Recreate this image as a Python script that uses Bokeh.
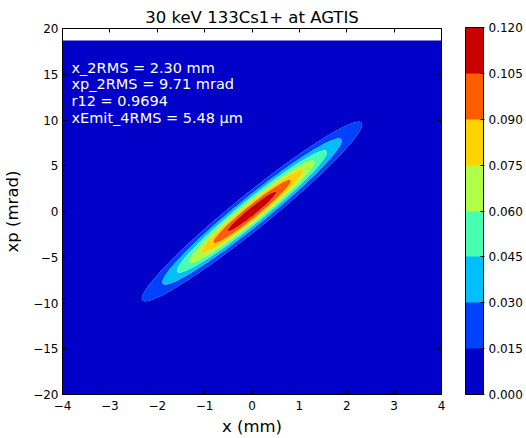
import numpy as np
from bokeh.plotting import figure
from bokeh.models import (LinearAxis, ColorBar, LinearColorMapper, FixedTicker,
                          PrintfTickFormatter, Label, Range1d)
from bokeh.embed import file_html
from bokeh.resources import INLINE

# ---------------- data ----------------
TITLE = "30 keV 133Cs1+ at AGTIS"
X_LABEL = "x (mm)"
Y_LABEL = "xp (mrad)"

# beam statistics printed on the chart
x_2rms = 2.30       # mm
xp_2rms = 9.71      # mrad
r12 = 0.9694
emit_4rms = 5.48    # um

x_ticks = [-4, -3, -2, -1, 0, 1, 2, 3, 4]
y_ticks = [-20, -15, -10, -5, 0, 5, 10, 15, 20]
levels = [0.000, 0.015, 0.030, 0.045, 0.060, 0.075, 0.090, 0.105, 0.120]
band_colors = ["#0000c8", "#0040ff", "#00bfff", "#48ffaf",
               "#afff48", "#ffd200", "#ff5c00", "#c80000"]

grid_x_range = [-4.0, 4.0]      # extent of the density map (mm)
grid_xp_range = [-20.0, 18.7]   # extent of the density map (mrad)
grid_n = [241, 481]

# ---------------- density map from the beam statistics ----------------
sx = x_2rms / 2.0
sp = xp_2rms / 2.0
xs = np.linspace(grid_x_range[0], grid_x_range[1], grid_n[0])
ys = np.linspace(grid_xp_range[0], grid_xp_range[1], grid_n[1])
X, Y = np.meshgrid(xs, ys)
a = X / sx
b = Y / sp
q = (a * a - 2 * r12 * a * b + b * b) / (1 - r12 ** 2)
Z = np.exp(-q / 2) / (2 * np.pi * sx * sp * np.sqrt(1 - r12 ** 2))

FONT = "DejaVu Sans"
FRAME_W = 526 - 61 - 85
FRAME_H = 438 - 28 - 43

p = figure(width=526, height=438, output_backend="svg", toolbar_location=None,
           x_range=Range1d(-4, 4), y_range=Range1d(-20, 20),
           min_border_left=61, min_border_right=85, min_border_top=28,
           min_border_bottom=43, title=TITLE)
p.background_fill_color = "white"
p.border_fill_color = "white"
p.outline_line_color = "black"
p.outline_line_width = 1
p.grid.visible = False

p.title.text_font = FONT
p.title.text_font_size = "16.5px"
p.title.text_font_style = "normal"
p.title.text_color = "black"
p.title.align = "center"
p.title.standoff = 4

p.contour(x=xs, y=ys, z=Z, levels=levels, fill_color=band_colors, line_color=None)


def minus(v):
    return str(v).replace("-", "\u2212")


def style_axis(ax, ticks, show_labels):
    ax.ticker = FixedTicker(ticks=ticks)
    ax.major_tick_in = 4
    ax.major_tick_out = 0
    ax.minor_tick_line_color = None
    ax.major_tick_line_color = "black"
    ax.axis_line_color = "black"
    ax.major_label_text_font = FONT
    ax.major_label_text_color = "black"
    ax.major_label_text_font_size = "12px"
    ax.axis_label_text_font = FONT
    ax.axis_label_text_font_style = "normal"
    ax.axis_label_text_color = "black"
    ax.axis_label_text_font_size = "16.5px"
    if show_labels:
        ax.major_label_overrides = {t: minus(t) for t in ticks}
    else:
        ax.major_label_text_color = None
        ax.major_label_standoff = 0


style_axis(p.xaxis[0], x_ticks, True)
style_axis(p.yaxis[0], y_ticks, True)
p.xaxis[0].axis_label = X_LABEL
p.yaxis[0].axis_label = Y_LABEL
p.xaxis[0].major_label_standoff = 6
p.yaxis[0].major_label_standoff = 4
p.xaxis[0].axis_label_standoff = 4
p.yaxis[0].axis_label_standoff = 8

top_ax = LinearAxis()
style_axis(top_ax, x_ticks, False)
p.add_layout(top_ax, "above")
right_ax = LinearAxis()
style_axis(right_ax, y_ticks, False)
p.add_layout(right_ax, "right")

mapper = LinearColorMapper(palette=band_colors, low=levels[0], high=levels[-1])
cb = ColorBar(color_mapper=mapper, ticker=FixedTicker(ticks=levels),
              formatter=PrintfTickFormatter(format="%.3f"),
              width=18, height=FRAME_H, padding=0, margin=0,
              location=(FRAME_W + 23, 0),
              label_standoff=4,
              major_label_text_font=FONT, major_label_text_font_size="12px",
              major_label_text_color="black",
              major_tick_in=3, major_tick_out=1, major_tick_line_color="black",
              minor_tick_line_color=None,
              bar_line_color="black", border_line_color=None,
              background_fill_alpha=0)
p.add_layout(cb, "center")

# annotation text
lines = [
    f"x_2RMS = {x_2rms:.2f} mm",
    f"xp_2RMS = {xp_2rms:.2f} mrad",
    f"r12 = {r12:.4f}",
    f"xEmit_4RMS = {emit_4rms:.2f} \u03bcm",
]
for i, t in enumerate(lines):
    p.add_layout(Label(x=9, y=327 - i * 16.8, x_units="screen", y_units="screen",
                       text=t, text_color="white", text_font=FONT,
                       text_font_size="14.5px", text_baseline="alphabetic"))

open("out.html", "w").write(file_html(p, INLINE))
